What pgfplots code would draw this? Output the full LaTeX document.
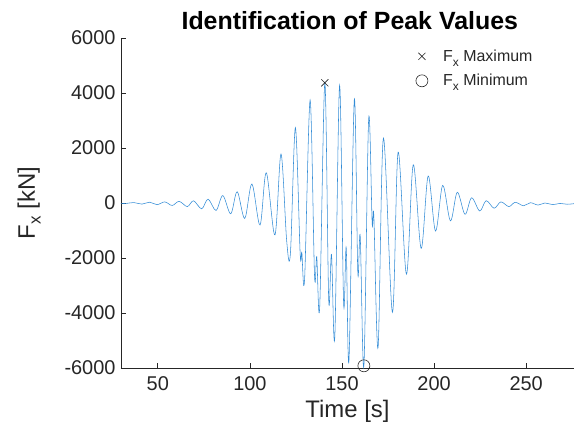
\documentclass[border=0pt]{standalone}
\usepackage{fontspec}
\setmainfont{Liberation Sans}
\usepackage{pgfplots}
\pgfplotsset{compat=1.18}
\definecolor{mblue}{rgb}{0.2,0.55,0.84}
\definecolor{mgray}{rgb}{0.15,0.15,0.15}
\begin{document}
\begin{tikzpicture}
\begin{axis}[
  at={(0,0)}, anchor=south west,
  scale only axis, width=453bp, height=330bp,
  xmin=30, xmax=276, ymin=-6000, ymax=6000,
  axis x line*=bottom, axis y line*=left,
  axis line style={mgray, line width=0.7bp},
  xtick={50,100,150,200,250},
  ytick={-6000,-4000,-2000,0,2000,4000,6000},
  tick align=inside, major tick length=5bp,
  tick style={mgray, line width=0.7bp},
  tick label style={font=\fontsize{20}{24}\selectfont, text=mgray},
  xticklabel style={yshift=-5bp},
  yticklabel style={xshift=-2bp},
  /pgf/number format/assume math mode=true,
  /pgf/number format/1000 sep={},
  title={\textbf{Identification of Peak Values}},
  title style={font=\fontsize{25}{29}\selectfont, text=black, at={(axis description cs:0.505,1.009)}, anchor=base, yshift=0pt},
  xlabel={Time [s]},
  xlabel style={font=\fontsize{24}{28}\selectfont, text=mgray, at={(axis description cs:0.5,-0.13)}, anchor=center},
  ylabel={F\raisebox{-0.45ex}{\fontsize{17}{20}\selectfont x} [kN]},
  ylabel style={font=\fontsize{24}{28}\selectfont, text=mgray, at={(axis description cs:-0.203,0.5)}, anchor=center},
  legend style={draw=none, fill=none, at={(axis description cs:0.644,0.977)}, anchor=north west,
    font=\fontsize{16}{19}\selectfont, text=mgray, row sep=7.5bp},
  legend image code/.code={\path (0bp,0bp) (19bp,0bp); \draw[#1] plot coordinates {(0bp,0bp)};},
  legend cell align=left,
]
\addplot[mblue, line width=0.55bp, smooth, tension=0.55, forget plot] coordinates {
(30,-20) (33,-15) (37.0,15) (41.4,-40) (45.6,30) (49.6,-60) (53.8,40) (57.8,-90)
(61.6,60) (66.0,-130) (69.4,80) (73.8,-210) (77.3,140) (81.6,-270) (85.3,270)
(89.6,-390) (93.1,410) (97.2,-560) (101.1,690) (105.5,-800) (108.9,1100)
(113.6,-1160) (116.9,1780) (120.0,-1400) (122.0,-1830) (124.7,2740)
(127.3,-1850) (128.2,-1800) (129.7,-2775) (132.7,3740) (135.1,-2650)
(136.3,-1950) (137.9,-3790) (140.7,4370) (142.8,-3530) (144.3,-1870)
(146.1,-4880) (148.7,4280) (150.9,-3670) (152.3,-1620) (153.8,-5720)
(156.7,3770) (158.6,-2530) (159.9,-1200) (161.9,-5920) (164.5,3070)
(166.4,-740) (167.3,-470) (169.6,-5260) (172.5,2360) (177.4,-3975)
(180.5,1850) (185.0,-2590) (188.7,1390) (193.0,-1650) (196.8,980)
(200.8,-1020) (204.7,640) (208.9,-650) (212.6,390) (216.8,-410) (220.4,190)
(224.8,-290) (228.3,85) (232.6,-190) (236.3,40) (240.6,-130) (244.1,25)
(248.6,-100) (252.3,10) (256.5,-75) (260.2,0) (264.5,-60) (268.2,-15)
(272.2,-45) (276,-25)
};
\addplot[only marks, mark=x, mark size=5bp, mgray, line width=0.6bp] coordinates {(140.7,4370)};
\addlegendentry{F\raisebox{-0.6ex}{\fontsize{12}{14}\selectfont x} Maximum}
\addplot[only marks, mark=o, mark size=6bp, mgray, line width=0.6bp] coordinates {(161.9,-5920)};
\addlegendentry{F\raisebox{-0.6ex}{\fontsize{12}{14}\selectfont x} Minimum}
\end{axis}
\pgfresetboundingbox
\useasboundingbox (-121bp,-65bp) rectangle (453bp,368bp);
\end{tikzpicture}
\end{document}
